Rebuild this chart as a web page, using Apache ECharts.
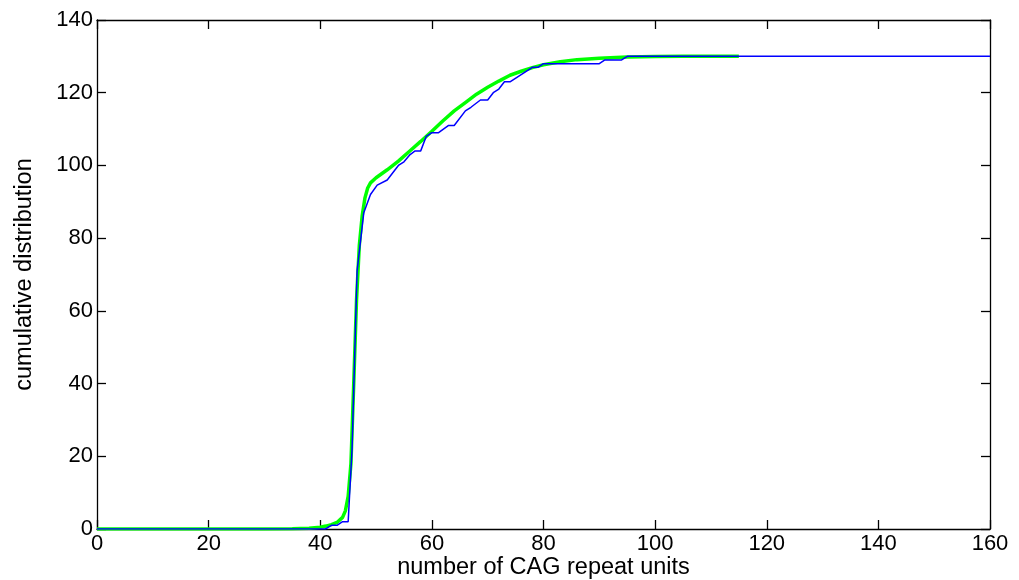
<!DOCTYPE html>
<html>
<head>
<meta charset="utf-8">
<script src="https://cdn.jsdelivr.net/npm/echarts@6/dist/echarts.min.js"></script>
<style>
  html, body { margin: 0; padding: 0; background: #fff; }
  #main { width: 1019px; height: 580px; }
</style>
</head>
<body>
<div id="main"></div>
<script type="text/javascript">
    // observed CAG repeat counts (blue, empirical)
    var observedX = [0, 40.9, 42, 43, 44, 45, 45.7, 46.6, 47.8, 49, 50.2, 52, 54, 55, 56.1, 57, 58, 59, 60, 61.2,
                     63, 64, 66, 67, 68.7, 70, 71, 72, 73, 74, 76, 78, 79, 80, 90, 91, 94, 95, 160];
    var observedY = [0, 0, 1, 1, 2, 2, 22, 71, 87, 92, 94.6, 96, 100, 101, 103, 104, 104, 108, 109, 109,
                     111, 111, 115, 116, 118, 118, 120, 121, 123, 123, 125, 127, 127, 128, 128, 129, 129, 130, 130];

    // fitted curve (green)
    var fitX = [0, 10, 20, 30, 35, 38, 40, 41, 42, 43, 44, 44.5, 45, 45.5, 46, 46.5, 47, 47.5, 48, 48.5, 49,
                50, 51, 52, 54, 56, 58, 60, 62, 64, 66, 68, 70, 72, 74, 76, 78, 80, 83, 86, 90, 95, 100, 105, 110, 115];
    var fitY = [0, 0, 0, 0, 0.05, 0.2, 0.5, 0.8, 1.2, 1.8, 3.2, 5, 9, 18, 40, 63, 78, 86, 91, 93.8, 95.2,
                96.6, 97.7, 98.8, 101.2, 103.9, 106.6, 109.4, 112.3, 115, 117.3, 119.6, 121.5, 123.2, 124.8, 125.9,
                126.9, 127.7, 128.5, 129.1, 129.5, 129.8, 129.95, 130, 130, 130];

    var xTicks = [0, 20, 40, 60, 80, 100, 120, 140, 160];
    var yTicks = [0, 20, 40, 60, 80, 100, 120, 140];

    function pairs(xs, ys) {
        var out = [];
        for (var i = 0; i < xs.length; i++) {
            out.push([xs[i], ys[i]]);
        }
        return out;
    }

    var myChart = echarts.init(document.getElementById('main'));

    var fontName = 'Liberation Sans, Arial, sans-serif';
    var labelFont = { color: '#000', fontSize: 22, fontFamily: fontName };
    var nameFont = { color: '#000', fontSize: 23.5, fontFamily: fontName };
    var lineStyle = { color: '#000', width: 1.3 };

    var option = {
        animation: false,
        backgroundColor: '#fff',
        grid: { left: 97, right: 29, top: 20, bottom: 51, containLabel: false, outerBoundsMode: 'none' },
        xAxis: [
            {
                type: 'value',
                position: 'bottom',
                min: xTicks[0],
                max: xTicks[xTicks.length - 1],
                interval: 20,
                name: 'number of CAG repeat units',
                nameLocation: 'middle',
                nameGap: 27,
                nameMoveOverlap: false,
                nameTextStyle: nameFont,
                axisLine: { show: true, lineStyle: lineStyle },
                axisTick: { show: true, inside: true, length: 9, lineStyle: lineStyle },
                axisLabel: Object.assign({ margin: 4 }, labelFont),
                splitLine: { show: false }
            },
            {
                type: 'value',
                position: 'top',
                min: xTicks[0],
                max: xTicks[xTicks.length - 1],
                interval: 20,
                axisLine: { show: true, onZero: false, lineStyle: lineStyle },
                axisTick: { show: true, inside: true, length: 9, lineStyle: lineStyle },
                axisLabel: { show: false },
                splitLine: { show: false }
            }
        ],
        yAxis: [
            {
                type: 'value',
                position: 'left',
                min: yTicks[0],
                max: yTicks[yTicks.length - 1],
                interval: 20,
                name: 'cumulative distribution',
                nameLocation: 'middle',
                nameGap: 60,
                nameMoveOverlap: false,
                nameTextStyle: nameFont,
                axisLine: { show: true, lineStyle: lineStyle },
                axisTick: { show: true, inside: true, length: 9, lineStyle: lineStyle },
                axisLabel: Object.assign({ margin: 4 }, labelFont),
                splitLine: { show: false }
            },
            {
                type: 'value',
                position: 'right',
                min: yTicks[0],
                max: yTicks[yTicks.length - 1],
                interval: 20,
                axisLine: { show: true, onZero: false, lineStyle: lineStyle },
                axisTick: { show: true, inside: true, length: 9, lineStyle: lineStyle },
                axisLabel: { show: false },
                splitLine: { show: false }
            }
        ],
        series: [
            {
                name: 'fit',
                type: 'line',
                xAxisIndex: 0,
                yAxisIndex: 0,
                data: pairs(fitX, fitY),
                showSymbol: false,
                lineStyle: { color: '#00ff00', width: 3.5 },
                z: 2
            },
            {
                name: 'observed',
                type: 'line',
                xAxisIndex: 0,
                yAxisIndex: 0,
                data: pairs(observedX, observedY),
                showSymbol: false,
                lineStyle: { color: '#0000ff', width: 1.5 },
                z: 3
            }
        ]
    };
    myChart.setOption(option);
</script>
</body>
</html>
